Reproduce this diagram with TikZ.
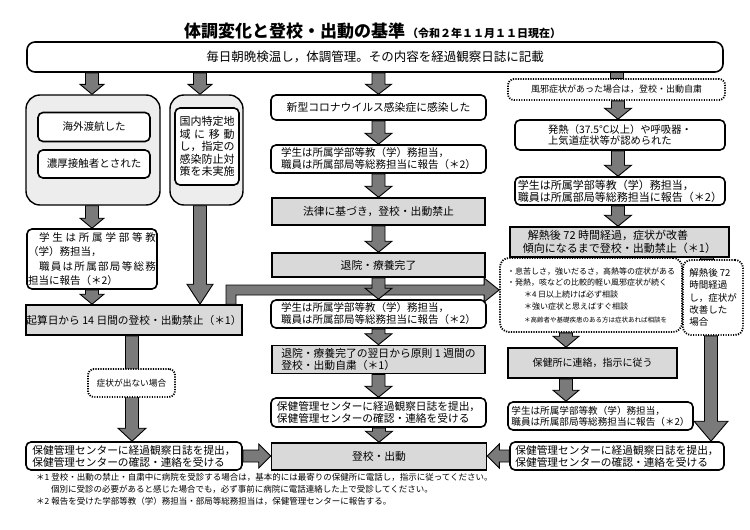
\documentclass[tikz,border=0pt]{standalone}
\usepackage{fontspec}
\setmainfont{Noto Sans CJK JP}
\usetikzlibrary{calc}
\definecolor{arrgray}{HTML}{7A7A7A}
\definecolor{boxgray}{HTML}{D9D9D9}
\definecolor{grpgray}{HTML}{EDEDED}
\newcommand\FS[2]{\fontsize{#1pt}{#2pt}\selectfont}
\tikzset{
  box/.style={draw, line width=1.6pt, rounded corners=5pt, fill=white, inner sep=0pt},
  gbox/.style={draw, line width=1.6pt, fill=boxgray, inner sep=0pt},
  grp/.style={draw, line width=1.4pt, rounded corners=14pt, fill=grpgray, inner sep=0pt},
  dbox/.style={draw, line width=1.8pt, dash pattern=on 1.2pt off 1.3pt, rounded corners=6pt, fill=white, inner sep=0pt},
  barrow/.style={fill=arrgray, draw=black, line width=0.9pt, line join=miter},
}
% down block arrow: start (y only), end (tip), head length, head half width
\newcommand\BArD[4]{%
  \draw[barrow] let \p1=#1, \p2=#2 in
   (\x2-6.5pt,\y1) -- (\x2-6.5pt,\y2+#3pt) -- (\x2-#4pt,\y2+#3pt) -- (\x2,\y2)
   -- (\x2+#4pt,\y2+#3pt) -- (\x2+6.5pt,\y2+#3pt) -- (\x2+6.5pt,\y1) -- cycle;}
% shaft only
\newcommand\BArS[2]{%
  \draw[barrow] let \p1=#1, \p2=#2 in (\x2-6.5pt,\y1) rectangle (\x2+6.5pt,\y2);}
% right block arrow
\newcommand\BArR[4]{%
  \draw[barrow] let \p1=#1, \p2=#2 in
   (\x1,\y1+6pt) -- (\x2-#3pt,\y1+6pt) -- (\x2-#3pt,\y1+#4pt) -- (\x2,\y1)
   -- (\x2-#3pt,\y1-#4pt) -- (\x2-#3pt,\y1-6pt) -- (\x1,\y1-6pt) -- cycle;}
% left block arrow
\newcommand\BArL[4]{%
  \draw[barrow] let \p1=#1, \p2=#2 in
   (\x1,\y1+6pt) -- (\x2+#3pt,\y1+6pt) -- (\x2+#3pt,\y1+#4pt) -- (\x2,\y1)
   -- (\x2+#3pt,\y1-#4pt) -- (\x2+#3pt,\y1-6pt) -- (\x1,\y1-6pt) -- cycle;}
\begin{document}
\begin{tikzpicture}[x=1pt,y=-1pt]
\fill[white] (0,0) rectangle (750,530);
\useasboundingbox (0,0) rectangle (750,530);

% column coordinates
\coordinate (xL) at (92,0);
\coordinate (xG) at (200,0);
\coordinate (xK) at (132,0);
\coordinate (xE) at (231,0);
\coordinate (xR) at (618,0);
\coordinate (xR4) at (566,0);
\coordinate (xR5s) at (706.5,0);
\coordinate (xR5) at (711,0);

% title
\node[anchor=base west, inner sep=0pt, font=\bfseries\FS{17}{17}] (title) at (184,37) {体調変化と登校・出動の基準};
\node[anchor=base west, inner sep=0pt, font=\bfseries\FS{11}{11}] (date) at (407,37) {（令和２年１１月１１日現在）};

% top box
\node[box, rounded corners=8pt, minimum width=696pt, minimum height=30pt, font=\FS{12.5}{14}] (top) at (375,57) {毎日朝晩検温し，体調管理。その内容を経過観察日誌に記載};

% left groups
\node[grp, minimum width=134pt, minimum height=110pt] (g1) at (93,150) {};
\node[box, minimum width=112pt, minimum height=29pt, font=\FS{10.5}{12}] (kaigai) at (94,127) {海外渡航した};
\node[box, minimum width=112pt, minimum height=28pt, font=\FS{10.5}{12}] (noukou) at (94,164) {濃厚接触者とされた};
\node[grp, minimum width=73pt, minimum height=110pt] (g2) at (206.5,150) {};
\node[box, minimum width=64pt, minimum height=77pt, align=left, font=\FS{11}{12.4}] (kokunai) at (207,146.5)
  {国内特定地\\\makebox[55pt][s]{域\hfill に\hfill 移\hfill 動}\\し，指定の\\感染防止対\\策を未実施};

\node[box, minimum width=130pt, minimum height=60pt, align=left, font=\FS{10.5}{14.5}] (rep1) at (92,259)
  {\hspace*{11pt}\makebox[117pt][s]{学\hfill 生\hfill は\hfill 所\hfill 属\hfill 学\hfill 部\hfill 等\hfill 教}\\（学）務担当，\\\hspace*{11pt}\makebox[117pt][s]{職\hfill 員\hfill は\hfill 所\hfill 属\hfill 部\hfill 局\hfill 等\hfill 総\hfill 務}\\担当に報告（＊2）};

\node[gbox, minimum width=216pt, minimum height=30pt, font=\FS{10.7}{12}] (kisan) at (134,320) {起算日から 14 日間の登校・出動禁止（＊1）};

\node[box, minimum width=216pt, minimum height=28pt, align=left, font=\FS{10.7}{12}] (hoken1) at (134,456)
  {保健管理センターに経過観察日誌を提出，\\保健管理センターの確認・連絡を受ける};

% center column
\node[box, minimum width=215pt, minimum height=25pt, font=\FS{10.8}{12}] (c1) at (378.5,107.5) {新型コロナウイルス感染症に感染した};
\node[box, minimum width=215pt, minimum height=28pt, align=left, font=\FS{10.5}{12}] (c2) at (378.5,159)
  {学生は所属学部等教（学）務担当，\\職員は所属部局等総務担当に報告（＊2）};
\node[gbox, minimum width=213pt, minimum height=27pt, font=\FS{10.8}{12}] (c3) at (378.5,211.5) {法律に基づき，登校・出動禁止};
\node[gbox, minimum width=213pt, minimum height=24pt, font=\FS{10.8}{12}] (c4) at (378.5,265) {退院・療養完了};
\node[box, minimum width=215pt, minimum height=28pt, align=left, font=\FS{10.5}{12}] (c5) at (378.5,314)
  {学生は所属学部等教（学）務担当，\\職員は所属部局等総務担当に報告（＊2）};
\node[gbox, minimum width=213pt, minimum height=28pt, align=left, font=\FS{10.8}{12}] (c6) at (378.5,359.5)
  {退院・療養完了の翌日から原則 1 週間の\\登校・出動自粛（＊1）};
\node[box, minimum width=215pt, minimum height=29pt, align=left, font=\FS{10.7}{12}] (c7) at (378.5,412.5)
  {保健管理センターに経過観察日誌を提出，\\保健管理センターの確認・連絡を受ける};
\node[gbox, minimum width=215pt, minimum height=27pt, font=\FS{10.8}{12}] (c8) at (379,456.5) {登校・出動};

% right column
\node[dbox, minimum width=217pt, minimum height=21pt, font=\FS{9}{10}] (r0) at (616.5,89.5) {風邪症状があった場合は，登校・出動自粛};
\node[box, minimum width=210pt, minimum height=30pt, align=left, font=\FS{10.3}{11.5}] (r1) at (620,135)
  {発熱（37.5°C以上）や呼吸器・\\上気道症状等が認められた};
\node[box, minimum width=210pt, minimum height=28pt, align=left, font=\FS{11}{12}] (r2) at (620,191)
  {学生は所属学部等教（学）務担当，\\職員は所属部局等総務担当に報告（＊2）};
\node[gbox, minimum width=219pt, minimum height=30pt, align=left, font=\FS{11}{12.5}] (r3) at (619.5,242)
  {\hspace*{5pt}解熱後 72 時間経過，症状が改善\\傾向になるまで登校・出動禁止（＊1）};
\node[dbox, rounded corners=9pt, minimum width=182pt, minimum height=74pt, align=left, font=\FS{8}{12.4}] (r4) at (591,295)
  {・息苦しさ，強いだるさ，高熱等の症状がある\\[-1.4pt]・発熱，咳などの比較的軽い風邪症状が続く\\\hspace*{17pt}＊4 日以上続けば必ず相談\\\hspace*{17pt}＊強い症状と思えばすぐ相談\\\hspace*{17pt}{\FS{6.5}{6.5}＊高齢者や基礎疾患のある方は症状あれば相談を}};
\node[dbox, rounded corners=8pt, minimum width=60pt, minimum height=75pt, align=left, font=\FS{9.5}{12.3}] (r5) at (713,297.5)
  {解熱後 72\\時間経過\\し，症状が\\改善した\\場合};
\node[gbox, minimum width=169pt, minimum height=30pt, font=\FS{10}{12}] (r6) at (592.5,363) {保健所に連絡，指示に従う};
\node[box, minimum width=185pt, minimum height=28pt, align=left, font=\FS{9.6}{11}] (r7) at (600.5,416)
  {学生は所属学部等教（学）務担当，\\職員は所属部局等総務担当に報告（＊2）};
\node[box, minimum width=214pt, minimum height=28pt, align=left, font=\FS{10.7}{12}] (r8) at (617,456)
  {保健管理センターに経過観察日誌を提出，\\保健管理センターの確認・連絡を受ける};

% arrows
\BArD{(top.south)}{(g1.north -| xL)}{10}{12}
\BArD{(top.south)}{(g2.north -| xG)}{10}{12}
\BArD{(top.south)}{(c1.north)}{10}{13}
\BArS{(top.south)}{(r0.north)}
\BArD{(g1.south)}{(rep1.north -| xL)}{10}{12}
\BArD{(rep1.south)}{(kisan.north -| xL)}{10}{12}
\BArD{(g2.south)}{(kisan.north -| xG)}{20}{13}
\BArD{(c1.south)}{(c2.north)}{11}{13.5}
\BArD{(c2.south)}{(c3.north)}{11}{13.5}
\BArD{(c3.south)}{(c4.north)}{11}{13.5}
\draw[barrow] let \p1=(kisan.north -| xE), \p2=([yshift=5pt]r4.west) in
  (\x1-5pt,\y1) -- (\x1-5pt,\y2+5pt) -- (\x2-15pt,\y2+5pt) -- (\x2-15pt,\y2+12pt) -- (\x2,\y2)
  -- (\x2-15pt,\y2-12pt) -- (\x2-15pt,\y2-5pt) -- (\x1+5pt,\y2-5pt) -- (\x1+5pt,\y1) -- cycle;
\BArD{(c4.south)}{(c5.north)}{11}{13.5}
\BArD{(c5.south)}{(c6.north)}{11}{13.5}
\BArD{(c6.south)}{(c7.north)}{11}{13.5}
\BArD{(c7.south)}{(c8.north)}{11}{13.5}
\BArD{(r0.south)}{(r1.north -| xR)}{11}{13.5}
\BArD{(r1.south)}{(r2.north -| xR)}{11}{13.5}
\BArD{(r2.south)}{(r3.north -| xR)}{11}{13.5}
\BArS{(r3.south)}{(r4.north -| xR4)}
\BArS{(r3.south)}{(r5.north -| xR5s)}
\BArD{(r4.south)}{(r6.north -| xR4)}{11}{13}
\BArD{(r6.south)}{(r7.north -| xR4)}{11}{13}
\BArD{(r5.south)}{(r8.north -| xR5)}{20}{17}
\BArD{(kisan.south)}{(hoken1.north -| xK)}{13}{14}
\BArR{(hoken1.east)}{(c8.west)}{12}{12}
\BArL{(r8.west)}{(c8.east)}{12}{12}

% dotted label on the long left arrow
\node[dbox, minimum width=87pt, minimum height=28pt, font=\FS{8.7}{10}] (nosym) at (131.5,383) {症状が出ない場合};

% footnotes
\node[anchor=west, inner sep=0pt, font=\FS{8.5}{10}] (fn1) at (36,477) {＊1 登校・出動の禁止・自粛中に病院を受診する場合は，基本的には最寄りの保健所に電話し，指示に従ってください。};
\node[anchor=west, inner sep=0pt, font=\FS{8.5}{10}] (fn2) at (51,489) {個別に受診の必要があると感じた場合でも，必ず事前に病院に電話連絡した上で受診してください。};
\node[anchor=west, inner sep=0pt, font=\FS{8.5}{10}] (fn3) at (36,501) {＊2 報告を受けた学部等教（学）務担当・部局等総務担当は，保健管理センターに報告する。};
\end{tikzpicture}
\end{document}
